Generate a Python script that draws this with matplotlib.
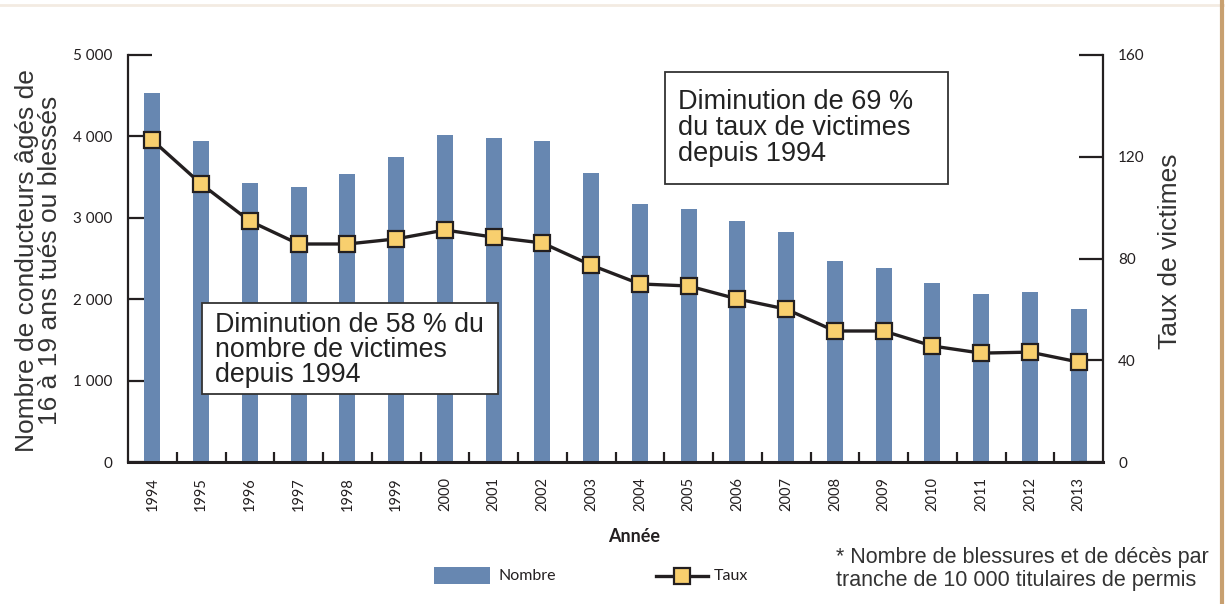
import matplotlib
matplotlib.use("Agg")
import matplotlib.pyplot as plt
from matplotlib.lines import Line2D
from matplotlib.patches import Rectangle
import numpy as np

years = ["1994", "1995", "1996", "1997", "1998", "1999", "2000", "2001", "2002", "2003",
         "2004", "2005", "2006", "2007", "2008", "2009", "2010", "2011", "2012", "2013"]
nombre = [4530, 3940, 3430, 3380, 3540, 3750, 4020, 3980, 3940, 3550,
          3170, 3110, 2960, 2830, 2470, 2380, 2200, 2065, 2090, 1880]
taux = [126.5, 109.3, 94.7, 85.7, 85.7, 87.7, 91.2, 88.4, 86.1, 77.4,
        70.0, 69.2, 64.1, 60.1, 51.5, 51.5, 45.6, 42.8, 43.2, 39.3]
left_ticks = [0, 1000, 2000, 3000, 4000, 5000]
left_ticklabels = ["0", "1 000", "2 000", "3 000", "4 000", "5 000"]
right_ticks = [0, 40, 80, 120, 160]

BAR = "#6787b1"
MK = "#f8cf6e"
DARK = "#231f20"
TICKF = "Lato"
TXTF = "Liberation Sans"

fig = plt.figure(figsize=(12.25, 6.04), dpi=100)
fig.patch.set_facecolor("white")
# frame decorations
fig.add_artist(Line2D([0, 1], [0.992, 0.992], color="#f3ebe2", lw=2, transform=fig.transFigure))
fig.add_artist(Line2D([0.9975, 0.9975], [0, 1], color="#c8a070", lw=3, transform=fig.transFigure))

ax = fig.add_axes([128/1225, 1-462/604, (1103-128)/1225, (462-55)/604])
x = np.arange(len(years))
ax.bar(x, nombre, width=0.33, color=BAR, zorder=2)
ax.set_xlim(-0.5, len(years)-0.5)
ax.set_ylim(0, 5000)
for s in ["top", "right"]:
    ax.spines[s].set_visible(False)
ax.spines["left"].set_linewidth(1.6)
ax.spines["bottom"].set_linewidth(2.2)
ax.spines["left"].set_color(DARK)
ax.spines["bottom"].set_color(DARK)
ax.set_yticks(left_ticks)
ax.set_yticklabels(left_ticklabels, fontfamily=TICKF, fontsize=11, color=DARK)
ax.tick_params(axis="y", direction="in", length=17, width=1.6, color=DARK, pad=11.5)
ax.set_xticks(x)
ax.set_xticklabels(years, rotation=90, fontfamily=TICKF, fontsize=10.5, color=DARK)
ax.set_xticks(np.arange(len(years)+1)[1:-1]-0.5, minor=True)
ax.tick_params(axis="x", which="major", length=0, pad=11)
ax.tick_params(axis="x", which="minor", direction="in", length=7, width=1.6, color=DARK)
ax.set_ylabel("Nombre de conducteurs âgés de\n16 à 19 ans tués ou blessés", fontfamily=TXTF,
              fontsize=19, color="#333333", linespacing=0.95)
ax.yaxis.set_label_coords(-0.068, 0.496)

ax2 = ax.twinx()
ax2.set_ylim(0, 160)
for s in ["top", "left", "bottom"]:
    ax2.spines[s].set_visible(False)
ax2.spines["right"].set_linewidth(1.6)
ax2.spines["right"].set_color(DARK)
ax2.set_yticks(right_ticks)
ax2.set_yticklabels([str(t) for t in right_ticks], fontfamily=TICKF, fontsize=11, color=DARK)
ax2.tick_params(axis="y", direction="in", length=17, width=1.6, color=DARK, pad=11)
ax2.plot(x, taux, color=DARK, lw=2.4, marker="s", markersize=11, markerfacecolor=MK,
         markeredgecolor=DARK, markeredgewidth=1.6, zorder=5)
ax2.set_ylabel("Taux de victimes", fontfamily=TXTF, fontsize=19, color="#333333")
ax2.yaxis.set_label_coords(1.056, 0.518)

# annotation boxes
fig.text(678/1225, 1-128/604, "Diminution de 69 %\ndu taux de victimes\ndepuis 1994", fontfamily=TXTF,
         fontsize=19.5, color="#222222", va="center", ha="left", linespacing=0.98)
fig.add_artist(Rectangle((665/1225, 1-184/604), (948-665)/1225, (184-72)/604, transform=fig.transFigure,
                         facecolor="none", edgecolor="#333333", lw=1.3, zorder=10))
box2 = Rectangle((202/1225, 1-394/604), (498-202)/1225, (394-303)/604, transform=fig.transFigure,
                 facecolor="white", edgecolor="#333333", lw=1.3, zorder=10)
fig.add_artist(box2)
fig.text(215/1225, 1-350/604, "Diminution de 58 % du\nnombre de victimes\ndepuis 1994", fontfamily=TXTF,
         fontsize=19.3, color="#222222", va="center", ha="left", linespacing=0.93, zorder=11)

# x label
fig.text(634/1225, 1-537/604, "Année", fontfamily=TICKF, fontsize=13, fontweight="bold",
         color=DARK, ha="center", va="center")

# legend
fig.add_artist(Rectangle((434/1225, 1-584/604), 56/1225, 17/604, transform=fig.transFigure,
                         facecolor=BAR, edgecolor="none"))
fig.text(499/1225, 1-576/604, "Nombre", fontfamily=TICKF, fontsize=11.5, color=DARK, va="center")
fig.add_artist(Line2D([656/1225, 708/1225], [1-576/604, 1-576/604], color=DARK, lw=2.4,
                      transform=fig.transFigure))
fig.add_artist(Line2D([682/1225], [1-576/604], marker="s", markersize=11, markerfacecolor=MK,
                      markeredgecolor=DARK, markeredgewidth=1.6, transform=fig.transFigure))
fig.text(714/1225, 1-576/604, "Taux", fontfamily=TICKF, fontsize=11.5, color=DARK, va="center")

# footnote
fig.text(836/1225, 1-569/604, "* Nombre de blessures et de décès par\ntranche de 10 000 titulaires de permis",
         fontfamily=TXTF, fontsize=15.5, color="#333333", va="center", ha="left", linespacing=1.1)

fig.savefig("out.png", dpi=100)
